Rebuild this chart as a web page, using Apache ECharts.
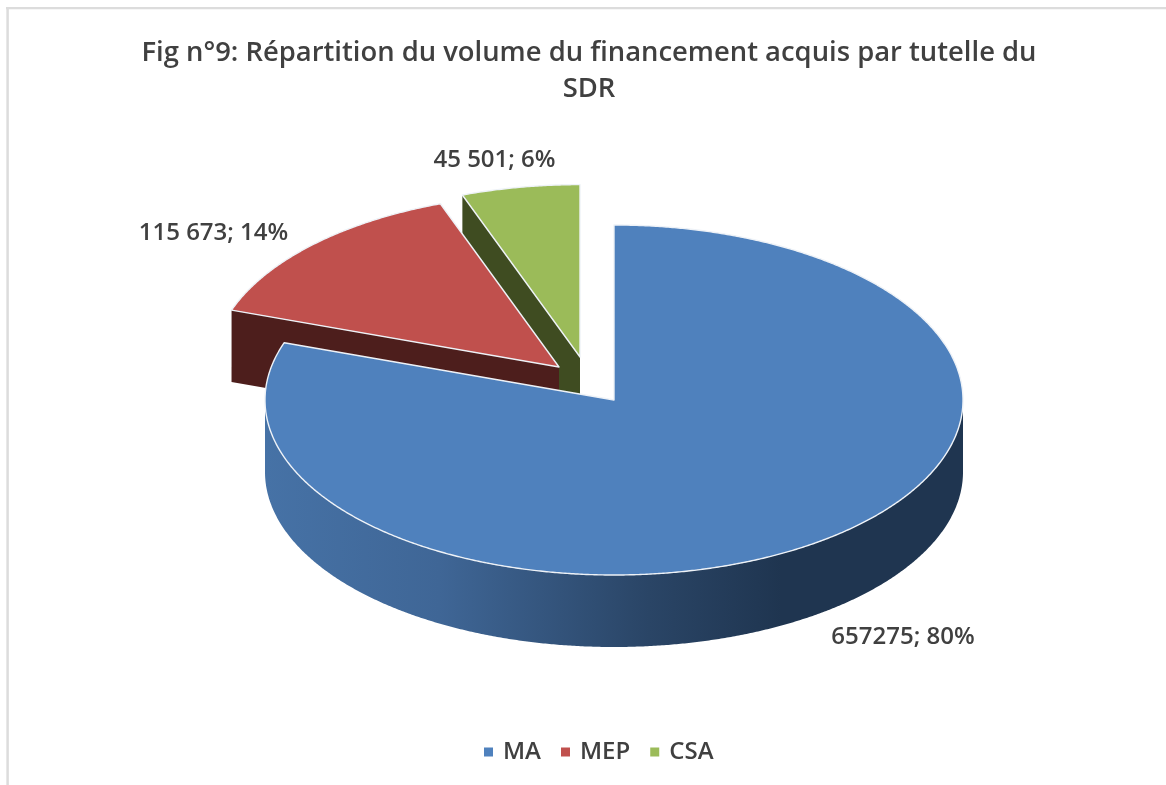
<!DOCTYPE html>
<html>
<head>
<meta charset="utf-8">
<style>html,body{margin:0;padding:0;background:#fff}#c{width:1166px;height:785px}</style>
<script src="https://cdn.jsdelivr.net/npm/echarts@6/dist/echarts.min.js"></script>
</head>
<body>
<div id="c"></div>
<script>
const titleText = 'Fig n°9: Répartition du volume du financement acquis par tutelle du\nSDR';
const categories = ['MA', 'MEP', 'CSA'];
const values = [657275, 115673, 45501];
const pointLabels = ['657275; 80%', '115 673; 14%', '45 501; 6%'];
const colors = ['#4f81bd', '#c0504d', '#9bbb59'];
const wallColors = ['#1f3550', '#4d1e1c', '#3f4c21'];

// Drawing geometry of the tilted pie (not data)
const RX = 349, RY = 175, DEPTH = 72;
const apexes = [[614, 400], [559, 367], [580, 357]];
const radiusScale = [1, 0.993, 0.985];
const labelAt = [[903, 637], [213.5, 233], [494.5, 160]];

const total = values.reduce((a, b) => a + b, 0);
function startAngle(i) {
  let s = 0;
  for (let k = 0; k < i; k++) s += values[k];
  return s / total * 2 * Math.PI;
}
function rim(c, t, dy, k) {
  return [c[0] + RX * k * Math.sin(t), c[1] - RY * k * Math.cos(t) + (dy || 0)];
}
function arcPoints(c, a, b, dy, s) {
  const pts = [], n = Math.max(2, Math.ceil(Math.abs(b - a) / 0.006));
  for (let k = 0; k <= n; k++) pts.push(rim(c, a + (b - a) * k / n, dy, s));
  return pts;
}
function renderSlice(i) {
  return function (params, api) {
    const v = api.value(0);
    const a = startAngle(i), b = a + v / total * 2 * Math.PI;
    const c = apexes[i], s = radiusScale[i];
    const children = [];
    // outer wall: only the front half of the rim (90deg to 270deg) shows
    const fa = Math.max(a, Math.PI / 2), fb = Math.min(b, 1.5 * Math.PI);
    if (fb > fa) {
      const upper = arcPoints(c, fa, fb, 0, s), lower = arcPoints(c, fb, fa, DEPTH, s);
      children.push({
        type: 'polygon', shape: { points: upper.concat(lower) },
        style: {
          fill: {
            type: 'linear', x: 0, y: 0, x2: 1, y2: 0,
            colorStops: [
              { offset: 0, color: '#4672a6' },
              { offset: 0.25, color: '#3f6696' },
              { offset: 0.55, color: '#2a4566' },
              { offset: 0.74, color: '#1f3550' },
              { offset: 1, color: '#1f3550' }
            ]
          }
        }
      });
    }
    // cut face, seen when the slice's left cut looks towards the viewer
    if (i > 0) {
      const p = rim(c, a, 0, s);
      children.push({
        type: 'polygon',
        shape: { points: [p, c, [c[0], c[1] + DEPTH], [p[0], p[1] + DEPTH]] },
        style: { fill: wallColors[i] }
      });
    }
    // top face
    children.push({
      type: 'polygon',
      shape: { points: [c].concat(arcPoints(c, a, b, 0, s)) },
      style: { fill: colors[i], stroke: '#eef2f7', lineWidth: 1.4, lineJoin: 'round' }
    });
    children.push({
      type: 'text',
      style: {
        x: labelAt[i][0], y: labelAt[i][1], text: pointLabels[i],
        align: 'center', verticalAlign: 'middle',
        fill: '#404040', font: '600 24px "Open Sans", sans-serif'
      }
    });
    return { type: 'group', children };
  };
}

const drawOrder = [2, 1, 0];
const chart = echarts.init(document.getElementById('c'), null, { renderer: 'canvas' });
chart.setOption({
  animation: false,
  backgroundColor: '#fff',
  title: {
    text: titleText, left: 584, top: 30, textAlign: 'center',
    textStyle: { color: '#404040', fontFamily: 'Open Sans', fontWeight: 600, fontSize: 27.4, lineHeight: 36 }
  },
  legend: {
    data: categories, left: 479, top: 735, icon: 'rect', itemWidth: 9, itemHeight: 9, itemGap: 20,
    textStyle: { color: '#404040', fontFamily: 'Open Sans', fontWeight: 600, fontSize: 24, padding: [0, 0, 0, 5] }
  },
  graphic: [
    { type: 'line', shape: { x1: 6, y1: 8.2, x2: 1166, y2: 8.2 }, style: { stroke: '#dcdcdc', lineWidth: 2.3 }, silent: true },
    { type: 'line', shape: { x1: 7.6, y1: 8, x2: 7.6, y2: 785 }, style: { stroke: '#dcdcdc', lineWidth: 2.5 }, silent: true }
  ],
  series: drawOrder.map(i => ({
    type: 'custom', name: categories[i], coordinateSystem: 'none', silent: true,
    itemStyle: { color: colors[i] },
    data: [[values[i]]],
    renderItem: renderSlice(i)
  }))
});
</script>
</body>
</html>
